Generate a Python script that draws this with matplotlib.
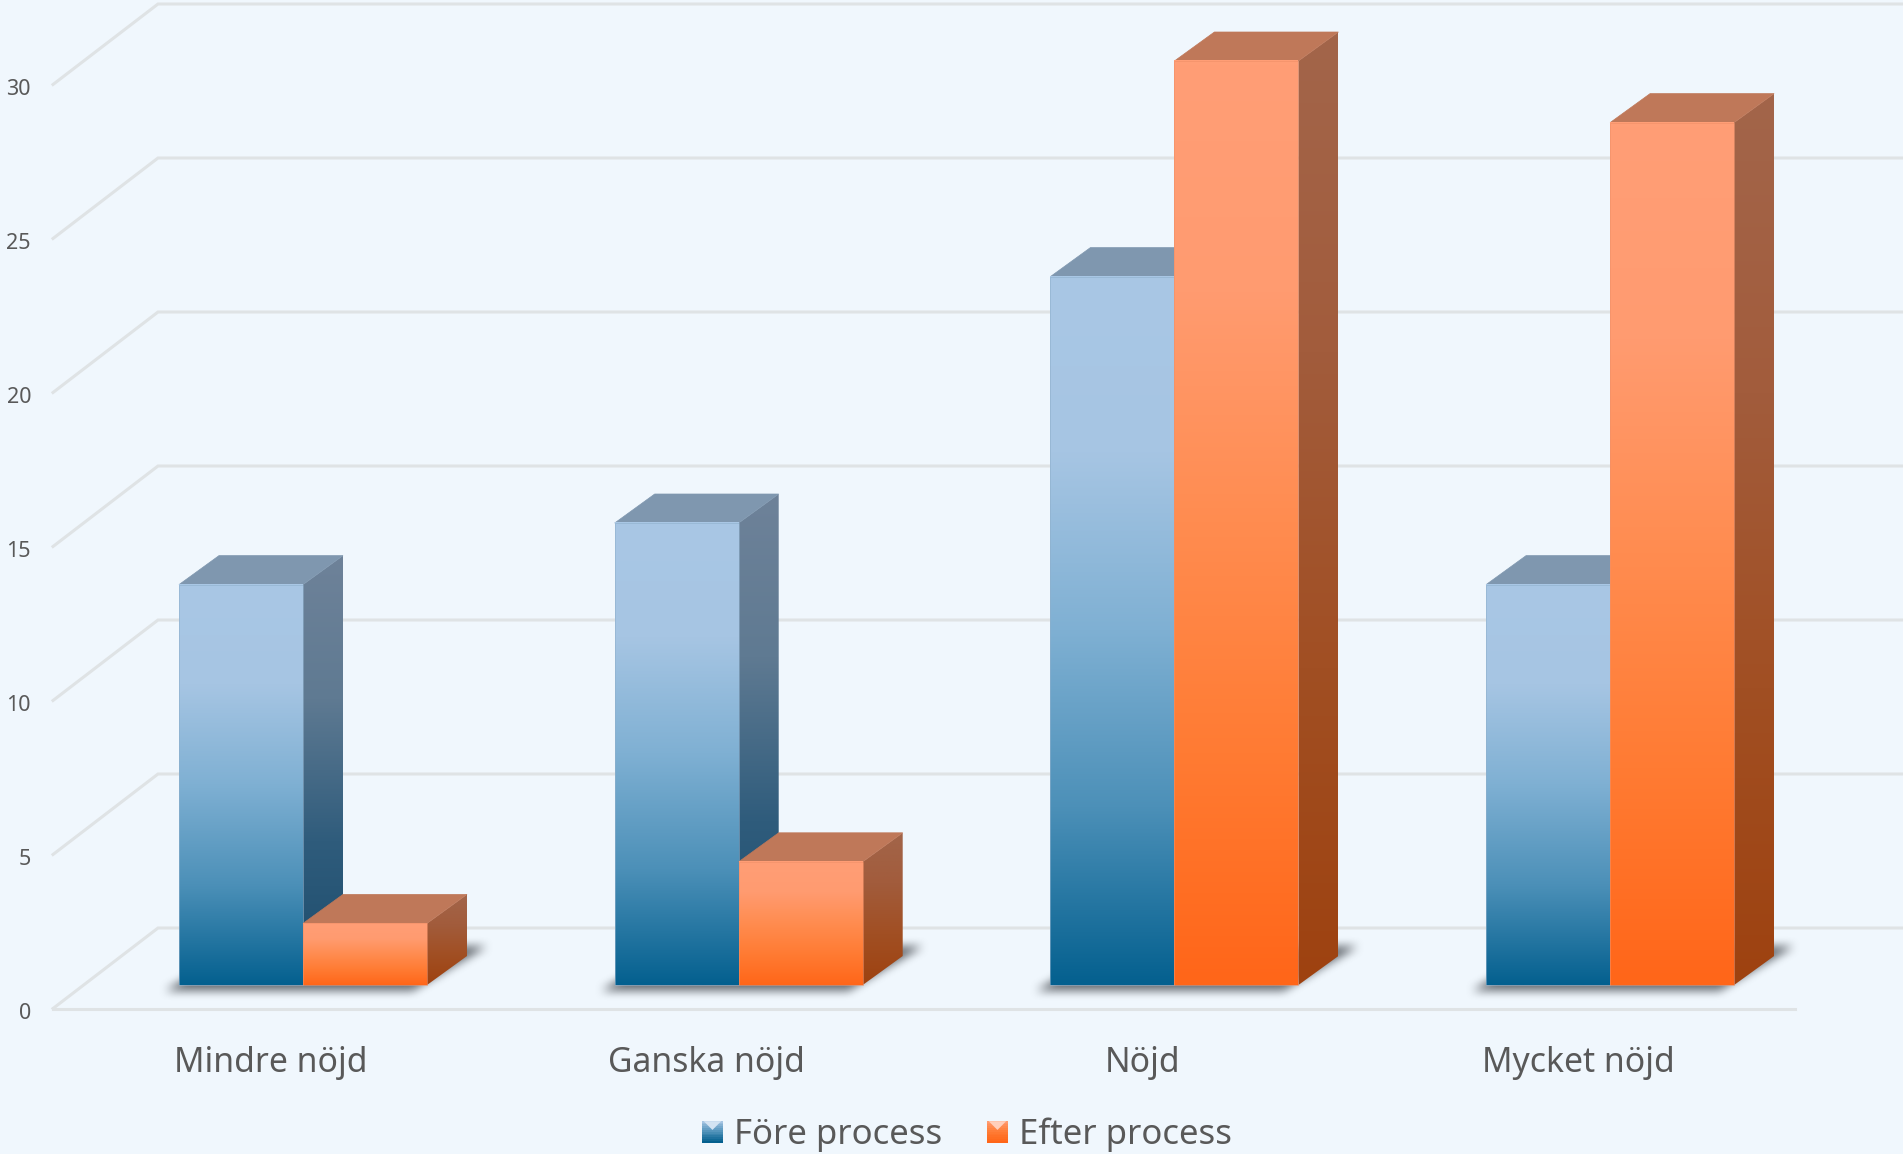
import numpy as np
import matplotlib
matplotlib.use('Agg')
import matplotlib.pyplot as plt
from matplotlib.colors import LinearSegmentedColormap, to_rgb
from matplotlib.legend_handler import HandlerBase
from matplotlib.patches import Patch, Polygon, Rectangle
from matplotlib.path import Path

categories = ['Mindre nöjd', 'Ganska nöjd', 'Nöjd', 'Mycket nöjd']
series_names = ['Före process', 'Efter process']
fore = [13, 15, 23, 13]
efter = [2, 4, 30, 28]
y_ticks = [0, 5, 10, 15, 20, 25, 30]

plt.rcParams['font.family'] = ['Noto Sans', 'DejaVu Sans']

BG = '#F0F7FD'
GRID = '#DFE3E5'
TEXT = '#595959'

# one unit on x is a category, one unit on y is a value
W, H = 1903, 1154
X_UNIT = 435.7
Y_UNIT = 30.8
ORIGIN_X, ORIGIN_Y = 303, 985
BAR_W = 124 / X_UNIT
DEPTH_X, DEPTH_Y = 40 / X_UNIT, 29 / Y_UNIT

styles = {
    'blue': {
        'front': ['#A9C7E5', '#A6C5E3', '#7FB0D3', '#4C90B8', '#04608F'],
        'side': ['#6E8299', '#5F7A92', '#2F5C7C', '#1C4C6C'],
        'top': '#7F97AF',
        'edge': '#8FB0CC',
    },
    'orange': {
        'front': ['#FF9E76', '#FF9B70', '#FF8C50', '#FF7B33', '#FF6619'],
        'side': ['#A2654A', '#A25C3C', '#A14F23', '#9E4210'],
        'top': '#BF7859',
        'edge': '#F09068',
    },
}

fig = plt.figure(figsize=(W / 100, H / 100), dpi=100, facecolor=BG)
ax = fig.add_axes([0, 0, 1, 1])
ax.set_facecolor(BG)
ax.axis('off')


def gradient(colors, extent, clip=None, zorder=3):
    cmap = LinearSegmentedColormap.from_list('g', colors)
    img = ax.imshow(np.linspace(0, 1, 256).reshape(-1, 1), cmap=cmap, aspect='auto',
                    extent=extent, origin='upper', zorder=zorder, interpolation='bilinear')
    if clip is not None:
        img.set_clip_path(clip)


def draw_bar(x0, value, style, zorder):
    x1 = x0 + BAR_W
    s = styles[style]
    # side face
    side = Polygon([(x1, 0), (x1 + DEPTH_X, DEPTH_Y), (x1 + DEPTH_X, value + DEPTH_Y), (x1, value)],
                   closed=True, facecolor='none', edgecolor='none', zorder=zorder)
    ax.add_patch(side)
    gradient(s['side'], [x1, x1 + DEPTH_X, 0, value + DEPTH_Y], clip=side, zorder=zorder)
    # top face
    ax.add_patch(Polygon([(x0, value), (x1, value), (x1 + DEPTH_X, value + DEPTH_Y), (x0 + DEPTH_X, value + DEPTH_Y)],
                         closed=True, facecolor=s['top'], edgecolor=s['top'], linewidth=0.5, zorder=zorder))
    # front face
    gradient(s['front'], [x0, x1, 0, value], zorder=zorder + 0.1)
    ax.add_patch(Rectangle((x0, 0), BAR_W, value, facecolor='none', edgecolor=s['edge'],
                           linewidth=0.7, alpha=0.6, zorder=zorder + 0.2))


def blur(a, size):
    kernel = np.hanning(size + 2)[1:-1]
    kernel = kernel / kernel.sum()
    a = np.apply_along_axis(lambda r: np.convolve(r, kernel, mode='same'), 0, a)
    return np.apply_along_axis(lambda r: np.convolve(r, kernel, mode='same'), 1, a)


def draw_shadow(x0, x1):
    # blurred parallelogram on the floor behind and below the bars
    bx = 60 / X_UNIT
    by = 38 / Y_UNIT
    pad = 14 / X_UNIT
    low = -6 / Y_UNIT
    pts = [(x0 - pad, low), (x1 - pad, low), (x1 + bx, by), (x0 + bx, by)]
    margin_x, margin_y = 40 / X_UNIT, 40 / Y_UNIT
    left, right = x0 - pad - margin_x, x1 + bx + margin_x
    bottom, top = low - margin_y, by + margin_y
    nx = int((right - left) * X_UNIT)
    ny = int((top - bottom) * Y_UNIT)
    gx, gy = np.meshgrid(np.linspace(left, right, nx), np.linspace(top, bottom, ny))
    inside = Path(pts).contains_points(np.column_stack([gx.ravel(), gy.ravel()])).reshape(ny, nx)
    alpha = np.clip(blur(inside.astype(float), 23) * 0.85, 0, 1)
    rgba = np.zeros((ny, nx, 4))
    rgba[..., :3] = to_rgb('#4A4F55')
    rgba[..., 3] = alpha
    ax.imshow(rgba, aspect='auto', extent=[left, right, bottom, top], origin='upper',
              zorder=2, interpolation='bilinear')


# gridlines: floor edge, left wall and back wall
wall_x = -145 / X_UNIT
corner_x = -250 / X_UNIT
floor_end = (1795 - ORIGIN_X) / X_UNIT
back_off = 57 / Y_UNIT
front_off = -23.5 / Y_UNIT
x_right = (W - ORIGIN_X) / X_UNIT
for v in y_ticks:
    ax.plot([corner_x, wall_x, x_right], [v + front_off, v + back_off, v + back_off],
            color=GRID, linewidth=2.2, solid_joinstyle='miter', zorder=1)
    ax.text((31 - ORIGIN_X) / X_UNIT, v + front_off - 5 / Y_UNIT, str(v), ha='right', va='center',
            color=TEXT, fontsize=15.5)
ax.plot([corner_x, floor_end], [front_off, front_off], color=GRID, linewidth=2.2, zorder=1)

for i, cat in enumerate(categories):
    draw_shadow(i - BAR_W, i + BAR_W)
    draw_bar(i - BAR_W, fore[i], 'blue', 3 + i)
    draw_bar(i, efter[i], 'orange', 3.5 + i)
    ax.text(i - 32 / X_UNIT, -78 / Y_UNIT, cat, ha='center', va='center', color=TEXT, fontsize=24.3)

ax.set_xlim(-ORIGIN_X / X_UNIT, (W - ORIGIN_X) / X_UNIT)
ax.set_ylim((ORIGIN_Y - H) / Y_UNIT, ORIGIN_Y / Y_UNIT)


class GradientSquare(HandlerBase):
    def create_artists(self, legend, handle, xd, yd, width, height, fontsize, trans):
        s = styles[handle.get_label()]
        cmap = LinearSegmentedColormap.from_list('h', [s['front'][1], s['front'][3], s['front'][4]])
        side = width
        x = xd * -1
        y = -yd + (height - side) / 2
        n = 12
        out = []
        for k in range(n):
            out.append(Rectangle((x, y + side * (n - k - 1) / n), side, side / n + 0.3,
                                 facecolor=cmap(k / (n - 1)), edgecolor='none', transform=trans))
        light = tuple(0.5 * a + 0.5 for a in to_rgb(s['front'][0]))
        out.append(Polygon([(x + 0.1 * side, y + side), (x + 0.9 * side, y + side), (x + 0.5 * side, y + 0.6 * side)],
                           closed=True, facecolor=light, edgecolor='none', transform=trans))
        return out


handles = [Patch(label='blue'), Patch(label='orange')]
leg = ax.legend(handles, series_names, handler_map={Patch: GradientSquare()}, ncol=2, frameon=False,
                loc='center', bbox_to_anchor=((967 - ORIGIN_X) / X_UNIT, (ORIGIN_Y - 1135) / Y_UNIT),
                bbox_transform=ax.transData, fontsize=25, labelcolor=TEXT,
                handlelength=0.63, handletextpad=0.32, columnspacing=1.26, borderpad=0)

fig.savefig('out.png', dpi=100, facecolor=BG)
